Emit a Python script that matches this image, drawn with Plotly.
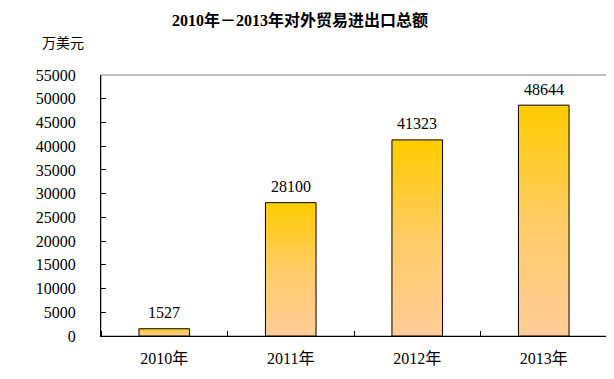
import plotly.graph_objects as go

categories = ["2010年", "2011年", "2012年", "2013年"]
values = [1527, 28100, 41323, 48644]
y_ticks = list(range(0, 55001, 5000))
y_ticktext = [str(t) for t in y_ticks]

FONT = "SimSun, 'Liberation Serif', 'Noto Sans CJK SC', serif"
half = 0.2

fig = go.Figure()
for i, v in enumerate(values):
    fig.add_trace(go.Scatter(
        x=[i - half, i + half, i + half, i - half, i - half],
        y=[0, 0, v, v, 0],
        mode="lines",
        fill="toself",
        line=dict(color="black", width=1),
        fillgradient=dict(type="vertical",
                          colorscale=[[0, "#FFCC99"], [0.5, "#FFCC66"], [1, "#FFCC00"]]),
        hoverinfo="skip",
        showlegend=False,
    ))

annotations = [
    dict(x=i, y=v, xref="x", yref="y", text=str(v), showarrow=False,
         yshift=16, yanchor="middle", xanchor="center", font=dict(size=16, family=FONT))
    for i, v in enumerate(values)
]
annotations.append(dict(text="万美元", xref="paper", yref="paper", x=-61/506, y=1 + 31/261,
                        xanchor="left", yanchor="middle", showarrow=False,
                        font=dict(size=14, family=FONT)))

W, H = 606, 371
fig.update_layout(
    width=W, height=H,
    margin=dict(l=93, r=7, t=67, b=43, autoexpand=False),
    paper_bgcolor="white", plot_bgcolor="white",
    font=dict(family=FONT, size=13, color="black"),
    title=dict(text="<b>2010年－2013年对外贸易进出口总额</b>", x=292/W, xanchor="center",
               y=1 - 12/H, yanchor="middle", font=dict(size=16, family=FONT), automargin=False),
    xaxis=dict(range=[-0.5, 3.5], tickvals=list(range(len(categories))), ticktext=categories,
               ticks="", showgrid=False, zeroline=False, showline=True, linecolor="black",
               linewidth=1, tickfont=dict(size=16), ticklabelstandoff=8, automargin=False,
               minor=dict(tick0=0.5, dtick=1, ticks="inside", ticklen=5, tickcolor="black", showgrid=False)),
    yaxis=dict(range=[0, 55000], tickvals=y_ticks, ticktext=y_ticktext, ticks="inside", ticklen=5,
               tickcolor="black", showgrid=False, zeroline=False, showline=True, linecolor="black",
               linewidth=1, tickfont=dict(size=16), ticklabelstandoff=21, automargin=False),
    shapes=[dict(type="rect", xref="paper", yref="paper", x0=0, x1=1, y0=0, y1=1,
                 line=dict(color="#808080", width=1), layer="below")],
    annotations=annotations,
)

fig.write_html("out.html")
